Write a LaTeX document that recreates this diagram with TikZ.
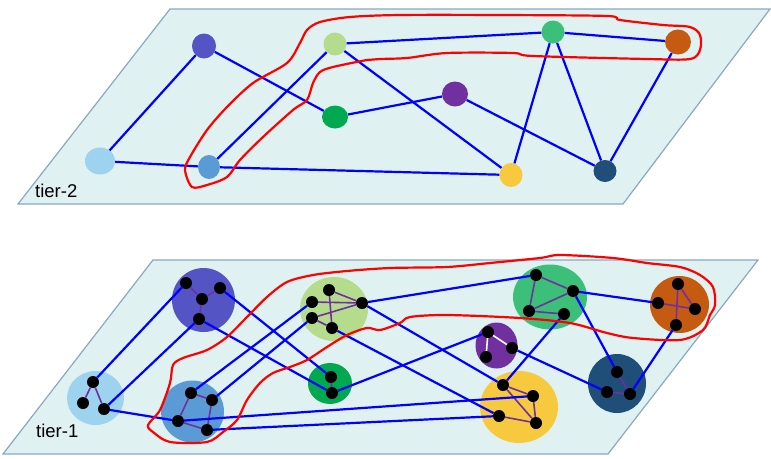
\documentclass[tikz,border=0pt]{standalone}
\usepackage{fontspec}
\setmainfont{Liberation Sans}
\usetikzlibrary{shapes.geometric}
\definecolor{planefill}{HTML}{E0F1F2}
\definecolor{planeedge}{HTML}{8AA8C2}
\definecolor{cLB}{HTML}{9DD3EE}
\definecolor{cSB}{HTML}{5B9BD5}
\definecolor{cDB}{HTML}{5454C4}
\definecolor{cLG}{HTML}{B5DC8C}
\definecolor{cGR}{HTML}{00A94F}
\definecolor{cPU}{HTML}{7030A0}
\definecolor{cYE}{HTML}{F6C93F}
\definecolor{cEM}{HTML}{3CBF78}
\definecolor{cOR}{HTML}{C55A11}
\definecolor{cNV}{HTML}{1F4E79}
\definecolor{linkblue}{HTML}{0000FF}
\definecolor{intra}{HTML}{7030A0}
\tikzset{
  plane/.style={fill=planefill, draw=planeedge, line width=1.2pt},
  blob/.style={ellipse, inner sep=0pt, draw=none},
  dot/.style={circle, fill=black, inner sep=0pt, minimum size=12pt},
  link/.style={draw=linkblue, line width=2.2pt},
  ilink/.style={draw=intra, line width=1.6pt},
  wlink/.style={draw=white, line width=1.6pt},
  contour/.style={draw=red, line width=2.2pt},
  tierlabel/.style={font=\fontsize{18.5}{22}\selectfont, anchor=base west, inner sep=0pt}
}
\begin{document}
\begin{tikzpicture}[x=1pt, y=-1pt]
\useasboundingbox (0,0) rectangle (771,458);
% ---------------- planes
\draw[plane] (18,204) -- (623,204) -- (770,9) -- (170,9) -- cycle;
\draw[plane] (3,454) -- (608,454) -- (758,260) -- (153,260) -- cycle;
\node[tierlabel] (t2) at (35,197) {tier-2};
\node[tierlabel] (t1) at (36,437) {tier-1};
% ---------------- tier-2 nodes
\node[blob, fill=cLB, minimum width=30pt, minimum height=27pt] (a) at (100,161) {};
\node[blob, fill=cSB, minimum width=22pt, minimum height=24pt] (b) at (209,167) {};
\node[blob, fill=cDB, minimum width=24pt, minimum height=25pt] (c) at (204,46) {};
\node[blob, fill=cLG, minimum width=23pt, minimum height=23pt] (d) at (335,44) {};
\node[blob, fill=cGR, minimum width=26pt, minimum height=23pt] (e) at (335,117) {};
\node[blob, fill=cPU, minimum width=26pt, minimum height=25pt] (f) at (455,94) {};
\node[blob, fill=cYE, minimum width=23pt, minimum height=24pt] (g) at (511,175) {};
\node[blob, fill=cEM, minimum width=23pt, minimum height=23pt] (h) at (553,32) {};
\node[blob, fill=cOR, minimum width=26pt, minimum height=25pt] (i) at (678,42) {};
\node[blob, fill=cNV, minimum width=23pt, minimum height=22pt] (j) at (605,171) {};
\draw[link] (a) -- (c);
\draw[link] (a) -- (b);
\draw[link] (c) -- (e);
\draw[link] (b) -- (d);
\draw[link] (b) -- (g);
\draw[link] (d) -- (h);
\draw[link] (d) -- (g);
\draw[link] (e) -- (f);
\draw[link] (f) -- (j);
\draw[link] (h) -- (g);
\draw[link] (h) -- (j);
\draw[link] (h) -- (i);
\draw[link] (i) -- (j);
\draw[contour] plot[smooth cycle, tension=0.5] coordinates {
 (185,170) (190,157) (207,130) (227,107) (253,83) (287,63) (300,43) (307,30) (320,22)
 (350,17) (400,15) (500,15) (607,16) (620,20) (663,25) (690,27) (700,35) (700,50) (690,59)
 (647,59) (533,56) (513,53) (447,53) (407,58) (380,59) (367,60) (333,67) (320,72) (313,83)
 (307,100) (293,110) (263,137) (240,160) (227,177) (207,185) (192,187)};
% ---------------- tier-1 clusters
\node[blob, fill=cLB, minimum width=57pt, minimum height=54pt] (A) at (95.5,398) {};
\node[blob, fill=cDB, minimum width=63pt, minimum height=64pt] (C) at (203.5,300) {};
\node[blob, fill=cSB, minimum width=63pt, minimum height=62pt] (B) at (192.5,411.5) {};
\node[blob, fill=cLG, minimum width=68pt, minimum height=64pt] (D) at (334,309) {};
\node[blob, fill=cGR, minimum width=44pt, minimum height=41pt] (E) at (330,383.5) {};
\node[blob, fill=cEM, minimum width=74pt, minimum height=65pt] (H) at (550,297) {};
\node[blob, fill=cOR, minimum width=59pt, minimum height=57pt] (I) at (679.5,304.5) {};
\node[blob, fill=cPU, minimum width=42pt, minimum height=46pt] (F) at (496.5,345.5) {};
\node[blob, fill=cYE, minimum width=78pt, minimum height=72pt] (G) at (519,407) {};
\node[blob, fill=cNV, minimum width=58pt, minimum height=59pt] (J) at (617,383.5) {};
% dots
\node[dot] (L1) at (93,382) {};
\node[dot] (L2) at (83,403) {};
\node[dot] (L3) at (104,409) {};
\node[dot] (D1) at (186,283) {};
\node[dot] (D2) at (220,288) {};
\node[dot] (D3) at (202,299) {};
\node[dot] (D4) at (199,319) {};
\node[dot] (S1) at (191,393) {};
\node[dot] (S2) at (212,400) {};
\node[dot] (S3) at (178,421) {};
\node[dot] (S4) at (207,430) {};
\node[dot] (G1) at (329,290) {};
\node[dot] (G2) at (312,302) {};
\node[dot] (G3) at (362,303) {};
\node[dot] (G4) at (312,318) {};
\node[dot] (G5) at (332,328) {};
\node[dot] (R1) at (331,377) {};
\node[dot] (R2) at (332,393) {};
\node[dot] (P1) at (488,332) {};
\node[dot] (P2) at (512,348) {};
\node[dot] (P3) at (486,357) {};
\node[dot] (Y1) at (503,385) {};
\node[dot] (Y2) at (533,396) {};
\node[dot] (Y3) at (499,416) {};
\node[dot] (Y4) at (536,423) {};
\node[dot] (E1) at (536,275) {};
\node[dot] (E2) at (573,291) {};
\node[dot] (E3) at (529,311) {};
\node[dot] (E4) at (564,314) {};
\node[dot] (O1) at (678,284) {};
\node[dot] (O2) at (658,303) {};
\node[dot] (O3) at (695,309) {};
\node[dot] (O4) at (676,325) {};
\node[dot] (N1) at (617,372) {};
\node[dot] (N2) at (607,392) {};
\node[dot] (N3) at (630,394) {};
% intra-cluster links
\draw[ilink] (L1) -- (L2);
\draw[ilink] (L1) -- (L3);
\draw[ilink] (D1) -- (D3);
\draw[ilink] (D2) -- (D3);
\draw[ilink] (D3) -- (D4);
\draw[ilink] (S1) -- (S2);
\draw[ilink] (S2) -- (S4);
\draw[ilink] (S1) -- (S3);
\draw[ilink] (S3) -- (S4);
\draw[ilink] (G2) -- (G3);
\draw[ilink] (G1) -- (G5);
\draw[ilink] (G4) -- (G3);
\draw[ilink] (G4) -- (G5);
\draw[ilink] (G1) -- (G3);
\draw[ilink] (R1) -- (R2);
\draw[wlink] (P1) -- (P2);
\draw[wlink] (P1) -- (P3);
\draw[ilink] (Y1) -- (Y2);
\draw[ilink] (Y1) -- (Y4);
\draw[ilink] (Y2) -- (Y4);
\draw[ilink] (Y3) -- (Y4);
\draw[ilink] (E1) -- (E2);
\draw[ilink] (E1) -- (E3);
\draw[ilink] (E3) -- (E2);
\draw[ilink] (E3) -- (E4);
\draw[ilink] (O1) -- (O3);
\draw[ilink] (O1) -- (O4);
\draw[ilink] (O2) -- (O3);
\draw[ilink] (N1) -- (N3);
\draw[ilink] (N2) -- (N3);
% inter-cluster links
\draw[link] (L1) -- (D1);
\draw[link] (L3) -- (D4);
\draw[link] (L3) -- (S3);
\draw[link] (D2) -- (R1);
\draw[link] (D4) -- (R2);
\draw[link] (S1) -- (G2);
\draw[link] (S2) -- (G4);
\draw[link] (S3) -- (Y2);
\draw[link] (S4) -- (Y3);
\draw[link] (G3) -- (E1);
\draw[link] (G3) -- (Y1);
\draw[link] (G5) -- (Y3);
\draw[link] (R2) -- (P1);
\draw[link] (P2) -- (N2);
\draw[link] (E4) -- (Y1);
\draw[link] (E2) -- (O2);
\draw[link] (E2) -- (N1);
\draw[link] (O4) -- (N3);
\draw[contour] plot[smooth cycle, tension=0.5] coordinates {
 (148,425) (160,410) (170,383) (173,365) (183,358) (207,350) (227,337) (247,317) (267,297)
 (287,282) (313,275) (347,271) (390,268) (447,267) (490,263) (540,258) (560,255) (613,258)
 (647,263) (680,267) (700,275) (713,287) (715,305) (710,315) (703,330) (680,340) (633,338)
 (607,333) (570,323) (520,318) (447,315) (410,317) (400,323) (380,330) (367,328) (347,335)
 (327,347) (307,360) (290,367) (273,373) (260,383) (247,400) (237,420) (223,432) (207,442)
 (170,442) (153,432)};
\end{tikzpicture}
\end{document}
